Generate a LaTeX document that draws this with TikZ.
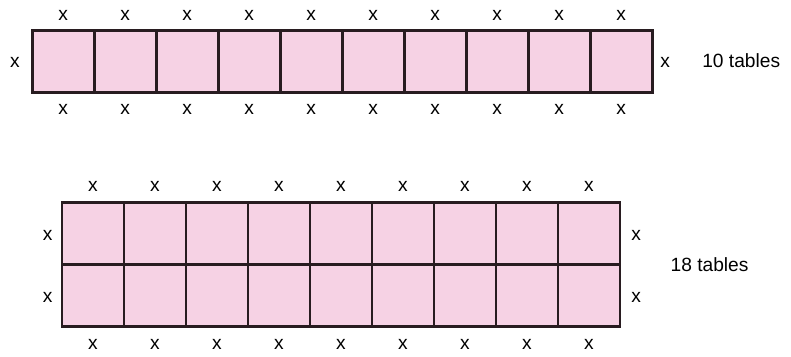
\documentclass[tikz,border=0pt]{standalone}
\usepackage{fontspec}
\setmainfont{Liberation Sans}
\definecolor{tablepink}{RGB}{246,210,228}
\definecolor{tableline}{RGB}{40,28,32}
\tikzset{
	tablecell/.style={draw=tableline, fill=tablepink, line width=1.3pt, minimum size=1cm, inner sep=0pt},
	seat/.style={font=\fontsize{8.8}{10}\selectfont, inner sep=0pt},
	caption/.style={font=\fontsize{8.8}{10}\selectfont, anchor=west, inner sep=0pt}
}
\begin{document}
\begin{tikzpicture}
				\useasboundingbox (0,0) rectangle (12.758,5.742);
				% ten tables in one row
				\foreach \i in {0,...,9} {
					\node[tablecell] (a\i) at (1.02+\i, 4.75) {};
					\node[seat] (at\i) at (1.02+\i, 5.5) {x};
					\node[seat] (ab\i) at (1.02+\i, 3.97) {x};
				}
				\node[seat] (aleft) at (0.24, 4.74) {x};
				\node[seat] (aright) at (10.73, 4.74) {x};
				\node[caption] (acap) at (11.32, 4.77) {10 tables};
				% eighteen tables in two rows
				\foreach \i in {0,...,8} {
					\node[tablecell] (b\i) at (1.5+\i, 1.97) {};
					\node[tablecell] (c\i) at (1.5+\i, 0.97) {};
					\node[seat] (bt\i) at (1.5+\i, 2.74) {x};
					\node[seat] (cb\i) at (1.5+\i, 0.18) {x};
				}
				\node[seat] (bleft) at (0.77, 1.95) {x};
				\node[seat] (cleft) at (0.77, 0.95) {x};
				\node[seat] (bright) at (10.26, 1.95) {x};
				\node[seat] (cright) at (10.26, 0.95) {x};
				\node[caption] (bcap) at (10.81, 1.47) {18 tables};
\end{tikzpicture}
\end{document}
